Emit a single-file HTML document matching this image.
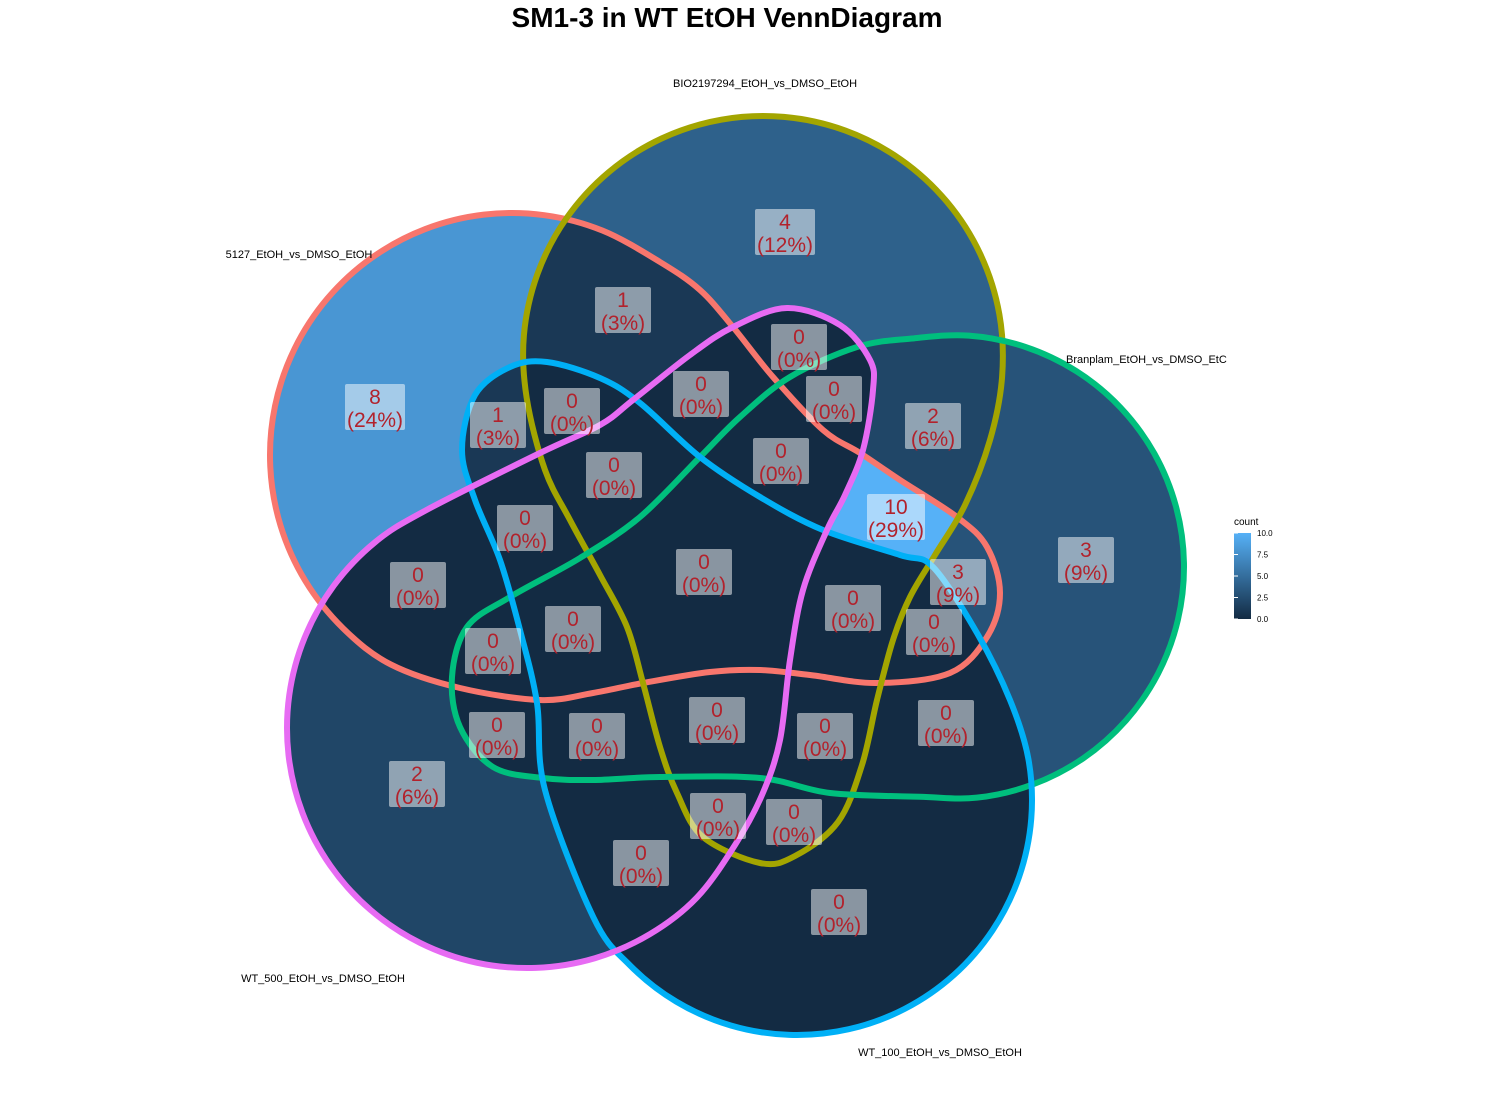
<!DOCTYPE html>
<html><head><meta charset="utf-8"><style>
html,body{margin:0;padding:0;background:#fff;}
svg{display:block;font-family:"Liberation Sans",sans-serif;}
</style></head><body>
<svg id="chart" width="1500" height="1100" viewBox="0 0 1500 1100" xmlns="http://www.w3.org/2000/svg">
<text x="727" y="27" text-anchor="middle" font-size="28" font-weight="bold">SM1-3 in WT EtOH VennDiagram</text>
<defs id="defs"></defs>
<g id="fills"></g><g id="outlines"></g><g id="labels"></g>
<text x="765" y="87" text-anchor="middle" font-size="11">BIO2197294_EtOH_vs_DMSO_EtOH</text>
<text x="299" y="258" text-anchor="middle" font-size="11">5127_EtOH_vs_DMSO_EtOH</text>
<text x="1066" y="363" font-size="11">Branplam_EtOH_vs_DMSO_EtC</text>
<text x="323" y="982" text-anchor="middle" font-size="11">WT_500_EtOH_vs_DMSO_EtOH</text>
<text x="940" y="1056" text-anchor="middle" font-size="11">WT_100_EtOH_vs_DMSO_EtOH</text>
<g>
<text x="1234" y="525" font-size="10">count</text>
<defs><linearGradient id="lg" x1="0" y1="1" x2="0" y2="0"><stop offset="0" stop-color="#132b43"/><stop offset="1" stop-color="#56b1f7"/></linearGradient></defs>
<rect x="1234" y="533" width="17" height="86" fill="url(#lg)"/>
<g font-size="8" id="legendTicks"></g>
</g>
</svg>
<script>
const setNames=["A","B","C","D","E"];
const setColors=["#f8766d","#a3a500","#00bf7d","#00b0f6","#e76bf3"];
function arc(cx,cy,r,a0,a1){const o=[];const n=Math.ceil((a1-a0)/15);for(let i=0;i<=n;i++){const a=(a0+(a1-a0)*i/n)*Math.PI/180;o.push([cx+r*Math.cos(a),cy+r*Math.sin(a)]);}return o;}
const shapes=[
arc(512,455,242,120,292).concat([[660,262],[700,290],[733,327],[773,377],[823,430],[860,453],[900,480],[957,517],[987,547],[1000,593],[987,637],[950,673],[877,683],[810,675],[760,670],[710,672],[643,683],[593,693],[540,700],[460,688]]),
arc(763,356,240,170,365).concat([[990,440],[965,505],[935,555],[910,597],[893,640],[877,700],[862,765],[838,822],[795,856],[760,863],[703,837],[677,793],[660,747],[643,683],[627,627],[600,575],[570,520],[545,470]]),
arc(952,567,232,-100,98).concat([[830,793],[760,778],[660,777],[593,780],[543,778],[493,767],[460,727],[452,677],[467,627],[510,597],[580,558],[640,517],[700,457],[740,417],[790,377],[857,347]]),
arc(797,800,235,-10,150).concat([[545,790],[537,703],[520,630],[500,560],[475,500],[462,450],[475,395],[510,367],[547,362],[600,378],[640,403],[700,457],[760,497],[823,530],[900,555],[933,567],[977,633],[1010,700]]),
arc(527,728,240,45,245).concat([[540,453],[600,425],[633,400],[690,355],[733,327],[787,308],[840,325],[870,360],[873,390],[863,450],[845,495],[827,530],[803,590],[790,660],[780,740],[762,795],[735,845]])
];
// nonzero regions: membership and counts
const regionSets=[["A"],["B"],["C"],["E"],["A","B"],["A","D"],["B","C"],["A","B","C"],["A","C"]];
const regionCounts=[8,4,3,2,1,1,2,10,3];
// labels
const labelX=[785,623,799,375,498,572,701,834,933,614,781,896,525,1086,704,958,418,853,934,573,493,717,946,497,597,825,417,718,794,641,839];
const labelY=[232,310,347,407,425,411,394,399,426,475,461,517,528,560,572,582,585,608,632,629,651,720,723,735,736,736,784,816,822,863,912];
const labelCounts=[4,1,0,8,1,0,0,0,2,0,0,10,0,3,0,3,0,0,0,0,0,0,0,0,0,0,2,0,0,0,0];
const legendTicks=[0,2.5,5,7.5,10];
const total=regionCounts.reduce((a,b)=>a+b,0);
const NS="http://www.w3.org/2000/svg";
function mk(t,a){const e=document.createElementNS(NS,t);for(const k in a)e.setAttribute(k,a[k]);return e;}
function path(p){const n=p.length;let d=`M${p[0][0]},${p[0][1]}`;
for(let i=0;i<n;i++){const p0=p[(i-1+n)%n],p1=p[i],p2=p[(i+1)%n],p3=p[(i+2)%n];
d+=`C${p1[0]+(p2[0]-p0[0])/6},${p1[1]+(p2[1]-p0[1])/6} ${p2[0]-(p3[0]-p1[0])/6},${p2[1]-(p3[1]-p1[1])/6} ${p2[0]},${p2[1]}`;}
return d+"Z";}
function col(v){const a=[0x13,0x2b,0x43],b=[0x56,0xb1,0xf7],t=v/10;return `rgb(${a.map((x,i)=>Math.round(x+(b[i]-x)*t)).join(",")})`;}
const defs=document.getElementById("defs"),fills=document.getElementById("fills"),outl=document.getElementById("outlines"),labs=document.getElementById("labels");
const paths=shapes.map(path);
paths.forEach((d,i)=>{const c=mk("clipPath",{id:"cp"+i});c.appendChild(mk("path",{d}));defs.appendChild(c);
const f=mk("path",{d,fill:"#132b43"});


fills.appendChild(f);});
regionSets.forEach((rs,ri)=>{const m=mk("mask",{id:"m"+ri});
let g=mk("rect",{x:0,y:0,width:1500,height:1100,fill:"#fff"});
rs.forEach(s=>{const gg=mk("g",{"clip-path":`url(#cp${setNames.indexOf(s)})`});gg.appendChild(g);g=gg;});
m.appendChild(g);
setNames.forEach((s,i)=>{if(!rs.includes(s))m.appendChild(mk("path",{d:paths[i],fill:"#000"}));});
defs.appendChild(m);
const r=mk("rect",{x:0,y:0,width:1500,height:1100,fill:col(regionCounts[ri]),mask:`url(#m${ri})`});


fills.appendChild(r);});
paths.forEach((d,i)=>{const o=mk("path",{d,fill:"none",stroke:setColors[i],"stroke-width":6});


outl.appendChild(o);});
labelCounts.forEach((c,i)=>{const g=mk("g",{});


const w=c>=10?58:(Math.round(c/total*100)>=10?60:56);
g.appendChild(mk("rect",{x:labelX[i]-w/2,y:labelY[i]-23,width:w,height:46,rx:2,fill:"rgba(255,255,255,0.5)"}));
const t1=mk("text",{x:labelX[i],y:labelY[i]-3,"text-anchor":"middle","font-size":21,fill:"#b2222c"});t1.textContent=c;
const t2=mk("text",{x:labelX[i],y:labelY[i]+20,"text-anchor":"middle","font-size":21,fill:"#b2222c"});t2.textContent="("+Math.round(c/total*100)+"%)";
g.appendChild(t1);g.appendChild(t2);labs.appendChild(g);});
const lt=document.getElementById("legendTicks");
legendTicks.forEach(v=>{const y=619-v/10*86;const t=mk("text",{x:1257,y:y+3});t.textContent=v.toFixed(1);


lt.appendChild(t);
lt.appendChild(mk("line",{x1:1234,x2:1238,y1:y,y2:y,stroke:"#fff"}));});
</script>
</body></html>
